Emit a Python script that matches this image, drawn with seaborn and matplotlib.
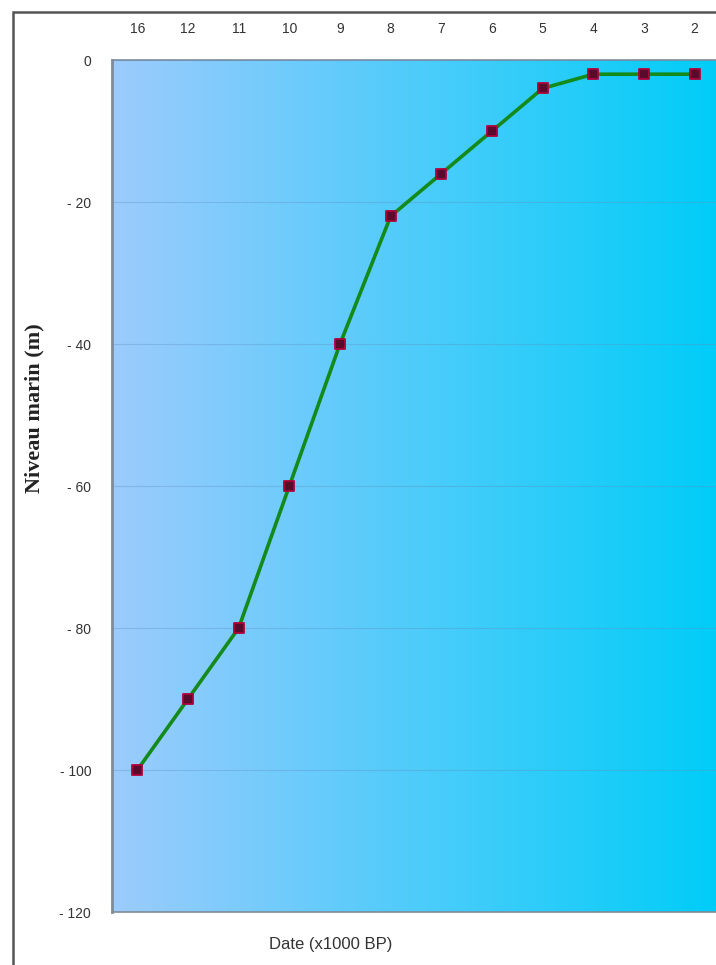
import numpy as np
import pandas as pd
import matplotlib
matplotlib.use('Agg')
import matplotlib.pyplot as plt
import seaborn as sns
from matplotlib.colors import LinearSegmentedColormap
from matplotlib.patches import Rectangle

# dates (x1000 BP) et niveau marin (m)
dates = ['16', '12', '11', '10', '9', '8', '7', '6', '5', '4', '3', '2']
niveau = [-100, -90, -80, -60, -40, -22, -16, -10, -4, -2, -2, -2]
y_ticks = [0, -20, -40, -60, -80, -100, -120]

df = pd.DataFrame({'date': dates, 'niveau': niveau})

sns.set_style('white')
plt.rcParams['font.family'] = ['Liberation Sans', 'DejaVu Sans']

fig = plt.figure(figsize=(7.16, 9.65), dpi=100)
W, H = 716, 965
ax = fig.add_axes([112 / W, 1 - 912 / H, (720 - 112) / W, (912 - 60) / H])

# fond en dégradé bleu clair -> cyan
cmap = LinearSegmentedColormap.from_list('mer', ['#9ccbfd', '#00cdf8'])
grad = np.linspace(0, 1, 256).reshape(1, -1)
ax.imshow(grad, extent=[0, 1, 0, 1], transform=ax.transAxes, cmap=cmap,
          aspect='auto', zorder=0, interpolation='bicubic')

sns.lineplot(data=df, x='date', y='niveau', ax=ax, color='#138a1a',
             linewidth=2.6, zorder=3, sort=False)
sns.scatterplot(data=df, x='date', y='niveau', ax=ax, marker='s', s=48,
                color='#5a0a2a', edgecolor='#b0003a', linewidth=1.3, zorder=4)

ax.set_xlim(-0.5, len(dates) - 0.5)
ax.set_ylim(-120, 0)
ax.set_yticks(y_ticks)
ax.set_yticklabels([str(v).replace('-', '- ') if v < 0 else str(v) for v in y_ticks])
ax.xaxis.tick_top()
ax.tick_params(axis='x', length=0, pad=17, labelsize=10, labelcolor='#333333')
ax.tick_params(axis='y', length=0, pad=15, labelsize=10, labelcolor='#333333')
ax.set_xlabel('')
ax.set_ylabel('')
ax.grid(axis='y', color='#5f8fbf', alpha=0.35, linewidth=0.8)
ax.set_axisbelow(False)
for side, sp in ax.spines.items():
    sp.set_color('#7f8c99')
    sp.set_linewidth(1.2)
ax.spines['left'].set_linewidth(2)

fig.text(34 / W, 1 - 408 / H, 'Niveau marin (m)', rotation=90, ha='center',
         va='center', fontsize=16, fontweight='bold',
         family=['Liberation Serif', 'DejaVu Serif'], color='#222222')
fig.text(331 / W, 1 - 945 / H, 'Date (x1000 BP)', ha='center', va='center',
         fontsize=12, color='#333333')

# cadre de la figure
fig.patches.append(Rectangle((13 / W, -0.1), 1.2, 1 - 12 / H + 0.1,
                             transform=fig.transFigure, fill=False,
                             edgecolor='#555555', linewidth=1.8))

fig.savefig('out.png', dpi=100)
